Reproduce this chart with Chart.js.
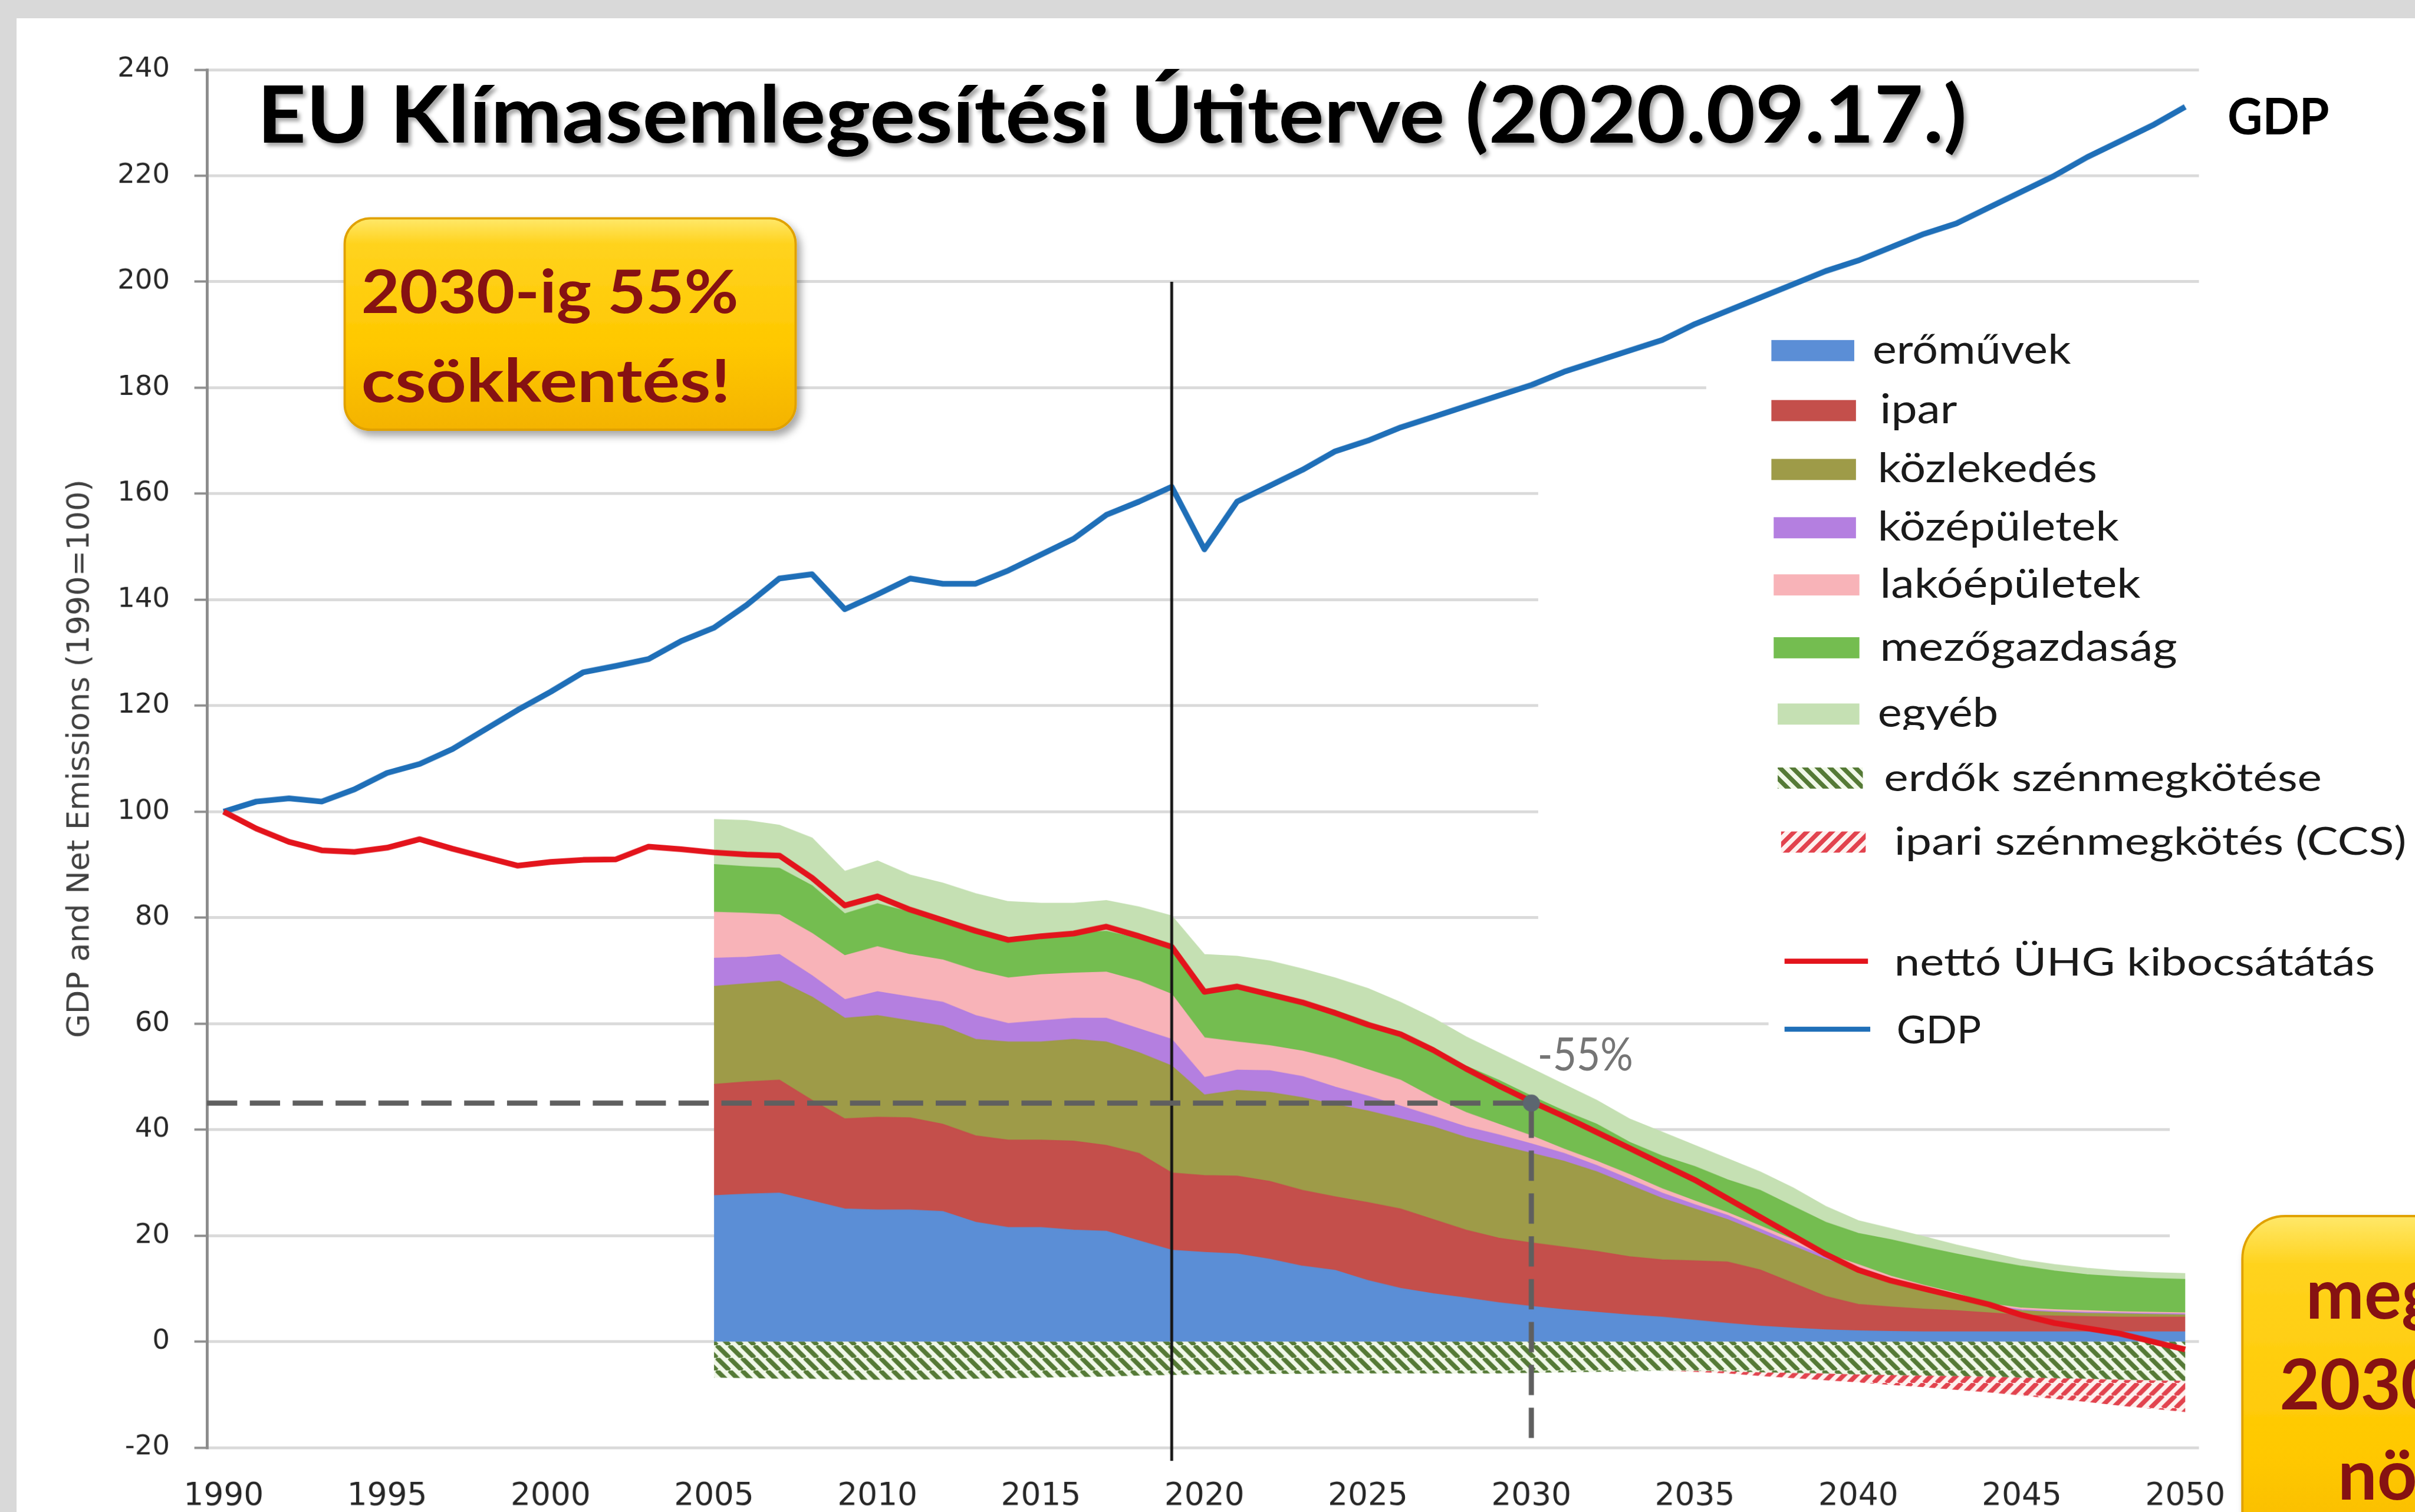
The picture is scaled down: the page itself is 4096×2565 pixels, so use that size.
<!DOCTYPE html>
<html>
<head>
<meta charset="utf-8">
<title>EU Klímasemlegesítési Útiterve</title>
<script src="https://cdn.jsdelivr.net/npm/chart.js@4.4.1/dist/chart.umd.min.js"></script>
<style>
  html, body { margin: 0; padding: 0; overflow: hidden; background: #d9d9d9; }
  #stage { position: absolute; left: 0; top: 0; width: 4225px; height: 2646px; transform: scale(0.969467); transform-origin: 0 0; overflow: hidden; }
  #panel { position: absolute; left: 29px; top: 32px; right: 0; bottom: 0; background: #fff; }
  #chart, #overlay { position: absolute; left: 0; top: 0; }
  #overlay text { font-family: Lato, "Open Sans", sans-serif; }
</style>
</head>
<body>
<div id="stage">
  <div id="panel"></div>
  <canvas id="chart" width="4225" height="2646"></canvas>
  <svg id="overlay" xmlns="http://www.w3.org/2000/svg" width="4225" height="2646">
    <defs>
      <linearGradient id="gold" x1="0" y1="0" x2="0" y2="1">
        <stop offset="0" stop-color="#ffe86a"/>
        <stop offset="0.12" stop-color="#ffd31e"/>
        <stop offset="0.6" stop-color="#ffc800"/>
        <stop offset="1" stop-color="#f4b300"/>
      </linearGradient>
      <filter id="boxShadow" x="-10%" y="-10%" width="130%" height="140%">
        <feDropShadow dx="7" dy="9" stdDeviation="7" flood-color="#000" flood-opacity="0.35"/>
      </filter>
      <filter id="titleShadow" x="-2%" y="-30%" width="104%" height="170%">
        <feDropShadow dx="5" dy="6" stdDeviation="3.5" flood-color="#000" flood-opacity="0.35"/>
      </filter>
      <pattern id="forestHatch" patternUnits="userSpaceOnUse" width="15.6" height="15.6" patternTransform="rotate(-45)">
        <rect width="15.6" height="15.6" fill="#f1f8e9"/>
        <rect width="7.8" height="15.6" fill="#557a36"/>
      </pattern>
      <pattern id="ccsHatch" patternUnits="userSpaceOnUse" width="15.6" height="15.6" patternTransform="rotate(45)">
        <rect width="15.6" height="15.6" fill="#fdf1ef"/>
        <rect width="7.8" height="15.6" fill="#e2434e"/>
      </pattern>
      <clipPath id="egyebClip"><rect x="3200" y="1150" width="700" height="127"/></clipPath>
    </defs>

    <text x="450" y="250" font-size="138" font-weight="700" fill="#000" textLength="2991" lengthAdjust="spacingAndGlyphs" filter="url(#titleShadow)">EU Klímasemlegesítési Útiterve (2020.09.17.)</text>
    <text x="3897" y="235" font-size="88" font-weight="700" fill="#000" textLength="178" lengthAdjust="spacingAndGlyphs">GDP</text>

    <rect x="603" y="382" width="789" height="370" rx="45" fill="url(#gold)" stroke="#e0a100" stroke-width="4" filter="url(#boxShadow)"/>
    <text x="632" y="548" font-size="104" font-weight="700" fill="#861212" textLength="660" lengthAdjust="spacingAndGlyphs">2030-ig 55%</text>
    <text x="632" y="703" font-size="104" font-weight="700" fill="#861212" textLength="646" lengthAdjust="spacingAndGlyphs">csökkentés!</text>

    <rect x="3923" y="2128" width="600" height="700" rx="75" fill="url(#gold)" stroke="#e0a100" stroke-width="4" filter="url(#boxShadow)"/>
    <text x="4034" y="2307" font-size="122" font-weight="700" fill="#861212">meg</text>
    <text x="3988" y="2466" font-size="122" font-weight="700" fill="#861212">2030</text>
    <text x="4090" y="2624" font-size="122" font-weight="700" fill="#861212">nö</text>

    <text x="2690" y="1873" font-size="80" fill="#757575" textLength="167" lengthAdjust="spacingAndGlyphs">-55%</text>

    <g id="legend"></g>
  </svg>
</div>
<script>
// years on the x axis
var years = [1990, 1991, 1992, 1993, 1994, 1995, 1996, 1997, 1998, 1999,
             2000, 2001, 2002, 2003, 2004, 2005, 2006, 2007, 2008, 2009,
             2010, 2011, 2012, 2013, 2014, 2015, 2016, 2017, 2018, 2019,
             2020, 2021, 2022, 2023, 2024, 2025, 2026, 2027, 2028, 2029,
             2030, 2031, 2032, 2033, 2034, 2035, 2036, 2037, 2038, 2039,
             2040, 2041, 2042, 2043, 2044, 2045, 2046, 2047, 2048, 2049, 2050];
var sectorYears = years.slice(15);   // sector split starts in 2005
var xTicks = [1990, 1995, 2000, 2005, 2010, 2015, 2020, 2025, 2030, 2035, 2040, 2045, 2050];
var X_MIN = 1989.49, X_MAX = 2050.42;

// index, 1990 = 100
var gdp = [100, 101.9, 102.5, 101.9, 104.2, 107.3, 109.0, 111.8, 115.5, 119.2,
           122.6, 126.3, 127.5, 128.8, 132.2, 134.7, 139.0, 144.0, 144.8, 138.2,
           141.0, 144.0, 143.0, 143.0, 145.5, 148.5, 151.5, 156.0, 158.5, 161.3,
           149.5, 158.5, 161.5, 164.5, 168.0, 170.0, 172.5, 174.5, 176.5, 178.5,
           180.5, 183.0, 185.0, 187.0, 189.0, 192.0, 194.5, 197.0, 199.5, 202.0,
           204.0, 206.5, 209.0, 211.0, 214.0, 217.0, 220.0, 223.5, 226.5, 229.5, 233.0];
var netEmissions = [100, 96.8, 94.3, 92.7, 92.4, 93.2, 94.8, 93.0, 91.4, 89.8,
                    90.5, 90.9, 91.0, 93.4, 92.9, 92.3, 91.9, 91.7, 87.5, 82.3,
                    84.0, 81.5, 79.5, 77.5, 75.8, 76.5, 77.0, 78.3, 76.5, 74.5,
                    66.0, 67.0, 65.5, 64.0, 62.0, 59.8, 58.0, 55.0, 51.5, 48.3,
                    45.3, 42.5, 39.5, 36.5, 33.5, 30.5, 27.0, 23.5, 20.0, 16.5,
                    13.5, 11.5, 10.0, 8.5, 7.0, 5.0, 3.5, 2.5, 1.5, 0.0, -1.5];

// sector emissions 2005-2050
var powerPlants = [27.5, 27.8, 28.0, 26.5, 25.0, 24.8, 24.8, 24.5, 22.5, 21.5,
                   21.5, 21.0, 20.8, 19.0, 17.2, 16.8, 16.5, 15.5, 14.2, 13.4,
                   11.5, 10.0, 9.0, 8.2, 7.3, 6.6, 6.0, 5.5, 5.0, 4.6,
                   4.0, 3.4, 2.9, 2.5, 2.2, 2.0, 1.9, 1.8, 1.8, 1.8,
                   1.8, 1.8, 1.8, 1.8, 1.8, 1.8];
var industry = [21.0, 21.2, 21.3, 19.0, 17.0, 17.5, 17.4, 16.5, 16.3, 16.5,
                16.5, 16.8, 16.2, 16.5, 14.6, 14.5, 14.7, 14.7, 14.3, 13.9,
                14.7, 15.0, 14.0, 12.8, 12.2, 12.0, 11.8, 11.5, 11.0, 10.8,
                11.2, 11.6, 10.6, 8.5, 6.3, 5.0, 4.6, 4.3, 4.0, 3.6,
                3.2, 3.0, 2.9, 2.8, 2.8, 2.8];
var transport = [18.5, 18.5, 18.7, 19.5, 19.0, 19.2, 18.3, 18.5, 18.2, 18.5,
                 18.5, 19.2, 19.5, 19.0, 20.2, 15.2, 16.2, 16.8, 17.5, 17.4,
                 17.3, 17.0, 17.5, 17.5, 17.5, 16.9, 16.2, 15.0, 13.5, 11.6,
                 9.8, 8.0, 7.0, 7.0, 7.0, 6.5, 5.0, 3.9, 2.7, 1.1,
                 0.8, 0.7, 0.6, 0.6, 0.5, 0.4];
var services = [5.3, 5.0, 5.0, 4.0, 3.5, 4.5, 4.5, 4.5, 4.5, 3.5,
                4.0, 4.0, 4.5, 4.5, 5.0, 3.3, 3.8, 4.1, 4.0, 3.3,
                2.8, 2.4, 2.0, 2.0, 2.0, 1.8, 1.5, 1.2, 1.1, 1.0,
                0.8, 0.8, 0.7, 0.6, 0.5, 0.5, 0.4, 0.3, 0.3, 0.3,
                0.2, 0.2, 0.2, 0.2, 0.2, 0.2];
var residential = [8.7, 8.3, 7.5, 8.0, 8.3, 8.5, 8.0, 8.0, 8.5, 8.6,
                   8.7, 8.5, 8.7, 9.0, 8.5, 7.5, 5.3, 4.7, 4.8, 5.3,
                   5.0, 4.9, 3.5, 2.7, 2.0, 1.5, 0.8, 0.8, 0.9, 0.8,
                   0.7, 0.5, 0.6, 0.6, 0.6, 0.5, 0.4, 0.3, 0.3, 0.3,
                   0.3, 0.3, 0.3, 0.2, 0.2, 0.2];
var agriculture = [9.0, 8.8, 8.8, 9.0, 7.9, 8.1, 8.0, 7.7, 8.0, 7.6,
                   7.6, 7.5, 7.7, 8.0, 8.7, 8.7, 10.1, 9.9, 9.4, 9.2,
                   9.0, 8.2, 9.0, 8.8, 8.3, 7.5, 7.2, 7.0, 6.1, 6.2,
                   6.5, 6.2, 6.7, 6.3, 5.9, 5.9, 6.9, 7.2, 7.4, 8.2,
                   7.9, 7.3, 6.8, 6.6, 6.4, 6.3];
var other = [8.5, 8.7, 8.1, 9.0, 8.0, 8.1, 7.0, 6.8, 6.5, 6.8,
             5.9, 5.7, 5.8, 6.0, 6.1, 7.0, 6.1, 6.1, 6.1, 6.1,
             6.3, 6.5, 6.0, 5.5, 5.2, 5.2, 5.0, 4.5, 4.4, 4.5,
             4.0, 4.0, 3.5, 3.5, 3.0, 2.4, 2.1, 2.0, 1.7, 1.5,
             1.2, 1.2, 1.2, 1.1, 1.1, 1.1];
var forestSink = [-6.8, -6.9, -7.0, -7.0, -7.2, -7.2, -7.2, -7.1, -7.0, -6.9,
                  -6.8, -6.7, -6.6, -6.4, -6.3, -6.2, -6.2, -6.1, -6.1, -6.0,
                  -6.0, -6.0, -6.0, -6.0, -6.0, -5.9, -5.8, -5.7, -5.6, -5.5,
                  -5.5, -5.6, -5.8, -5.9, -6.0, -6.2, -6.3, -6.4, -6.5, -6.6,
                  -6.8, -6.9, -7.0, -7.2, -7.3, -7.4];
var ccs = [0, 0, 0, 0, 0, 0, 0, 0, 0, 0,
           0, 0, 0, 0, 0, 0, 0, 0, 0, 0,
           0, 0, 0, 0, 0, 0, 0, 0, 0, 0,
           -0.2, -0.4, -0.7, -1.0, -1.3, -1.5, -1.9, -2.2, -2.6, -3.0,
           -3.4, -3.9, -4.4, -4.9, -5.4, -5.9];

// -55% target (2030) and the 2019 divider
var targetYear = 2030, targetValue = 45, targetBottom = -18.2;
var dividerYear = 2019, dividerRange = [-22.5, 200];

// legend layout (reference pixels)
var legendBaseline = [636, 741, 844, 946, 1046, 1156, 1272, 1384, 1496, 1707, 1826];
var legendTextX = [3276, 3289, 3285, 3285, 3289, 3289, 3285, 3296, 3314, 3314, 3318];
var legendTextW = [347, 135, 384, 422, 456, 520, 211, 766, 896, 841, 148];
var legendSwatchX = [3099, 3099, 3099, 3103, 3103, 3103, 3110, 3110, 3116, 3122, 3122];
var legendSwatchW = [145, 148, 148, 144, 150, 150, 143, 149, 148, 146, 150];

// white boxes behind the legend hide the gridlines there
var gridMasks = [[2985, 580, 1240, 200], [2691, 780, 1534, 900], [3094, 1680, 1131, 160], [3796, 1900, 429, 300]];

var canvas = document.getElementById('chart');
var ctx = canvas.getContext('2d');

function hatch(fg, bg, dir) {
    var p = 22, c = document.createElement('canvas');
    c.width = p; c.height = p;
    var g = c.getContext('2d');
    g.fillStyle = bg;
    g.fillRect(0, 0, p, p);
    g.strokeStyle = fg;
    g.lineWidth = 8;
    g.beginPath();
    for (var k = -1; k <= 1; k++) {
        if (dir > 0) { g.moveTo(k * p, 0); g.lineTo(k * p + p, p); }
        else { g.moveTo(k * p, p); g.lineTo(k * p + p, 0); }
    }
    g.stroke();
    return ctx.createPattern(c, 'repeat');
}

function pts(xs, ys) {
    return ys.map(function (v, i) { return { x: xs[i], y: v }; });
}

function area(label, values, color, fill, stack) {
    return {
        label: label, data: pts(sectorYears, values),
        backgroundColor: color, borderColor: color, borderWidth: 2,
        fill: fill, stack: stack, order: 10, inLegend: true, legendFill: color
    };
}

var forestArea = area('erdők szénmegkötése', forestSink, hatch('#557a36', '#f1f8e9', 1), 'origin', 'sinks');
forestArea.borderWidth = 0;
forestArea.legendFill = 'url(#forestHatch)';
var ccsArea = area('ipari szénmegkötés (CCS)', ccs, hatch('#e2434e', '#fdf1ef', -1), '-1', 'sinks');
ccsArea.borderWidth = 0;
ccsArea.legendFill = 'url(#ccsHatch)';

var datasets = [
    area('erőművek', powerPlants, '#5b8ed6', 'origin', 'gross'),
    area('ipar', industry, '#c44f4b', '-1', 'gross'),
    area('közlekedés', transport, '#9e9b48', '-1', 'gross'),
    area('középületek', services, '#b47fe0', '-1', 'gross'),
    area('lakóépületek', residential, '#f8b3b8', '-1', 'gross'),
    area('mezőgazdaság', agriculture, '#74bd50', '-1', 'gross'),
    area('egyéb', other, '#c5e0b3', '-1', 'gross'),
    forestArea,
    ccsArea,
    {
        label: 'nettó ÜHG kibocsátátás', data: pts(years, netEmissions),
        borderColor: '#e3141c', borderWidth: 10, borderJoinStyle: 'round',
        fill: false, stack: 'net', order: 2, inLegend: true
    },
    {
        label: 'GDP', data: pts(years, gdp),
        borderColor: '#1f6fb8', borderWidth: 10, borderJoinStyle: 'round',
        fill: false, stack: 'gdp', order: 2, inLegend: true
    },
    {
        label: '-55%',
        data: [{ x: X_MIN, y: targetValue }, { x: targetYear, y: targetValue }, { x: targetYear, y: targetBottom }],
        borderColor: '#5f5f5f', borderWidth: 9, borderDash: [53, 22],
        pointRadius: [0, 15, 0], pointBackgroundColor: '#5c6670', pointBorderWidth: 0,
        fill: false, stack: 'target', order: 0
    },
    {
        label: '2019',
        data: [{ x: dividerYear, y: dividerRange[1] }, { x: dividerYear, y: dividerRange[0] }],
        borderColor: '#151515', borderWidth: 5,
        fill: false, stack: 'divider', order: 1, clip: false
    }
];

var maskPlugin = {
    id: 'gridMasks',
    beforeDatasetsDraw: function (chart) {
        var c = chart.ctx;
        c.save();
        c.fillStyle = '#ffffff';
        gridMasks.forEach(function (r) { c.fillRect(r[0], r[1], r[2], r[3]); });
        c.restore();
    }
};

var tickFont = 'DejaVu Sans';

var chart = new Chart(ctx, {
    type: 'line',
    data: { datasets: datasets },
    options: {
        responsive: false,
        animation: false,
        devicePixelRatio: 1,
        events: [],
        layout: { padding: { top: 122, right: 378, bottom: 0, left: 0 } },
        elements: { point: { radius: 0 }, line: { tension: 0 } },
        plugins: { legend: { display: false }, tooltip: { enabled: false } },
        scales: {
            x: {
                type: 'linear', min: X_MIN, max: X_MAX,
                grid: { display: false, drawTicks: false },
                border: { display: false },
                ticks: {
                    font: { family: tickFont, size: 55 }, color: '#262626', padding: 53,
                    maxRotation: 0, autoSkip: false,
                    callback: function (v) { return String(v); }
                },
                afterBuildTicks: function (s) { s.ticks = xTicks.map(function (v) { return { value: v }; }); },
                afterFit: function (s) { s.height = 113; }
            },
            y: {
                stacked: true, min: -20, max: 240,
                ticks: { stepSize: 20, font: { family: tickFont, size: 48 }, color: '#262626', padding: 43 },
                grid: { color: '#dadada', lineWidth: 5, tickLength: 22, tickColor: '#8c8c8c', tickWidth: 4 },
                border: { color: '#8c8c8c', width: 5 },
                title: {
                    display: true, text: 'GDP and Net Emissions (1990=100)',
                    font: { family: tickFont, size: 54 }, color: '#404040',
                    padding: { top: 141 - 54 * 1.2 / 2, bottom: 0 }
                },
                afterFit: function (s) { s.width = 362; }
            }
        }
    },
    plugins: [maskPlugin]
});

// legend drawn as svg next to the plot
var svgNS = 'http://www.w3.org/2000/svg';
var legend = document.getElementById('legend');
function el(tag, attrs, text) {
    var e = document.createElementNS(svgNS, tag);
    for (var k in attrs) e.setAttribute(k, attrs[k]);
    if (text) e.textContent = text;
    legend.appendChild(e);
    return e;
}
chart.data.datasets.filter(function (d) { return d.inLegend; }).forEach(function (d, i) {
    var base = legendBaseline[i];
    if (d.fill === false) {
        el('line', { x1: legendSwatchX[i], x2: legendSwatchX[i] + legendSwatchW[i], y1: base - 25, y2: base - 25,
                     stroke: d.borderColor, 'stroke-width': 9 });
    } else {
        el('rect', { x: legendSwatchX[i], y: base - 41, width: legendSwatchW[i], height: 37, fill: d.legendFill });
    }
    var t = el('text', { x: legendTextX[i], y: base, 'font-size': i < 7 ? 71 : 68, fill: '#1a1a1a',
                         textLength: legendTextW[i], lengthAdjust: 'spacingAndGlyphs' }, d.label);
    if (d.label === 'egyéb') t.setAttribute('clip-path', 'url(#egyebClip)');
});
</script>
</body>
</html>
